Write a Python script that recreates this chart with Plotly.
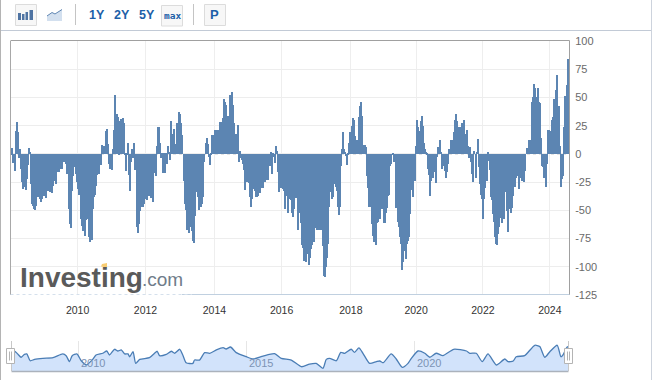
import numpy as np
import plotly.graph_objects as go

# weekly-style bars, two-year blocks between the axis tick marks
v_2008 = [-1,5,-8,-15,20,28,19,-4,4,-13,-25,-31,-25,-29,-32,-22,-10,5,2,-27,-44,-46,-49,-50,-46,-36,-38,-34,-40,-43,-40,-33,-37,-36,-39,-31,-33,-30,-34,-31,-35,-28,-24,-23,-27,-16,-16,-13,-5,-13,-5,-7,-5,-9,-18,-13,-49,-62,-66,-33,-20,-7,-12,-18,-25]
v_2010 = [-31,-36,-21,-58,-64,-68,-61,-73,-59,-58,-56,-74,-78,-76,-76,-49,-38,-36,-28,-19,-5,-18,-5,-10,8,4,7,4,20,22,9,-9,-13,-7,-14,4,21,52,35,33,-1,29,31,29,32,27,-1,-15,-1,10,-19,-33,-7,4,-4,10,-14,-14,-65,-70,-62,-51,-47,-34,-47,-44,-40]
v_2012 = [-31,-41,-33,-37,-33,-39,-34,-43,-17,-9,-20,7,24,24,10,-4,-1,-17,-1,-17,-1,-9,7,1,-5,26,29,18,18,22,7,9,27,27,37,35,27,17,0,-24,-44,-50,-67,-64,-70,-61,-65,-68,-77,-79,-55,-20,-34,-38,-50,-43,-47,-44,-38,-7,0,10,14,9,-3,-10,-1,17,17,14]
v_2014 = [21,10,21,10,21,28,28,28,32,49,46,43,30,34,34,52,48,55,43,27,11,18,12,26,-7,3,-4,-5,-9,-14,-32,-16,-25,-16,-26,-38,-47,-40,-31,-24,-33,-38,-38,-37,-30,-35,-30,-26,-30,-22,-25,-22,-23,-23,-7,-11,2,-18,-1,-3,-8,7,3,-16,-34,-24,-30]
v_2016 = [-28,-31,-33,-49,-37,-34,-52,-39,-40,-41,-52,-56,-49,-36,-39,-33,-67,-52,-50,-61,-81,-83,-95,-85,-96,-83,-89,-98,-92,-84,-81,-78,-78,-60,-66,-67,-67,-63,-67,-67,-67,-82,-108,-109,-100,-92,-80,-47,-34,-31,-40,-40,-38,-26,-27,-29,-33,-47,-54,-47,-11,4,19,4,1,-2,-10,-1,10,19]
v_2018 = [15,25,32,30,16,7,12,7,33,42,46,34,8,6,8,6,-20,-30,-47,-41,-47,-62,-73,-78,-61,-81,-61,-60,-53,-58,-40,-49,-40,-61,-61,-52,-48,-37,-36,-11,-9,0,-1,-7,-3,-48,-43,-60,-65,-74,-80,-103,-96,-86,-78,-93,-80,-77,-74,-53,-32,-30,-38,-24,-24]
v_2020 = [7,30,24,16,20,29,34,25,10,4,1,-1,-13,-19,-37,-24,-17,-21,-16,-14,-26,-3,6,6,12,1,-13,-9,-11,-15,-21,-16,-9,4,4,12,12,7,19,30,35,29,21,24,24,18,27,19,30,16,18,21,7,-4,6,-7,-18,-25,3,0,-21,1,13,-12,-27,-36,-40]
v_2022 = [-58,-40,-30,-8,-24,1,-6,-14,-38,-41,-53,-60,-74,-80,-81,-71,-65,-57,-53,-61,-55,-58,-34,-30,-51,-69,-47,-49,-52,-48,-37,-29,-29,-21,-12,-20,-31,-19,-21,-24,-20,-25,-15,0,5,3,12,12,12,46,50,62,58,47,50,58,46,45,14,-11,-12,-21,-17,-29,-9,21,21]
v_2024 = [20,14,30,33,49,46,57,70,34,42,7,-29,-22,-20,24,51,46,61,84]
blocks = [v_2008, v_2010, v_2012, v_2014, v_2016, v_2018, v_2020, v_2022, v_2024]
# dates where each block starts (last entry: end of data)
block_edges = [2008.0, 2009.98, 2012.0, 2014.05, 2016.05, 2018.11, 2020.05, 2022.04, 2024.03, 2024.6]

tick_years = ["2010", "2012", "2014", "2016", "2018", "2020", "2022", "2024"]
y_ticks = [100, 75, 50, 25, 0, -25, -50, -75, -100, -125]
y_labels = ["100", "75", "50", "25", "0", "-25", "-50", "-75", "-100", "-125"]

nav_years = [2008.02,2008.10,2008.20,2008.30,2008.40,2008.47,2008.57,2008.70,2008.95,2009.25,2009.54,2009.64,2009.74,2009.82,2009.96,2010.09,2010.24,2010.44,2010.53,2010.73,2010.85,2010.93,2011.08,2011.18,2011.28,2011.38,2011.48,2011.53,2011.63,2011.71,2011.83,2012.12,2012.27,2012.35,2012.42,2012.62,2012.77,2012.87,2013.02,2013.11,2013.21,2013.41,2013.46,2013.61,2013.76,2013.91,2014.11,2014.31,2014.40,2014.53,2014.70,2015.00,2015.20,2015.50,2015.84,2016.04,2016.34,2016.64,2016.88,2017.08,2017.28,2017.38,2017.48,2017.68,2017.81,2017.93,2018.12,2018.22,2018.35,2018.47,2018.67,2018.87,2018.97,2019.07,2019.31,2019.46,2019.64,2019.81,2019.91,2020.11,2020.31,2020.46,2020.65,2020.85,2021.17,2021.55,2021.65,2021.84,2022.02,2022.19,2022.44,2022.69,2022.79,2022.94,2023.03,2023.28,2023.58,2023.73,2023.88,2024.03,2024.25,2024.36,2024.42,2024.54,2024.6]
nav_values = [30,25,3,-22,0,3,-48,-38,-30,-25,3,-10,-55,-10,3,-48,-80,-35,-5,8,25,-5,38,25,33,3,3,-18,20,-68,-38,-25,8,23,-10,0,23,8,38,-5,-63,-68,-43,-43,13,8,33,50,40,55,13,-18,-35,-13,5,-30,-43,-93,-73,-68,-105,-38,-30,-48,15,8,38,15,48,8,-68,-55,-50,-63,3,-35,-98,-68,-30,25,8,-22,8,-10,38,25,8,8,-55,3,-80,-35,-55,-50,-18,-10,68,58,-22,20,68,-18,-5,53,60]
nav_tick_years = [2010, 2015, 2020]

W, H = 653, 380
L, R, T, B = 11, 569, 41, 371


def xp(px):
    return (px - L) / (R - L)


def yp(py):
    return (B - py) / (B - T)


bar_x, bar_y, bar_w = [], [], []
for k, block in enumerate(blocks):
    a, b = block_edges[k], block_edges[k + 1]
    step = (b - a) / len(block)
    for i, v in enumerate(block):
        bar_x.append(a + (i + 0.5) * step)
        bar_y.append(v)
        bar_w.append(step * 1.12)

fig = go.Figure()
fig.add_trace(go.Bar(x=bar_x, y=bar_y, width=bar_w, marker=dict(color="#5C85B2", line_width=0),
                     hoverinfo="skip", showlegend=False, xaxis="x", yaxis="y"))
fig.add_trace(go.Scatter(x=nav_years, y=[-125] * len(nav_years), mode="lines", line=dict(width=0),
                         hoverinfo="skip", showlegend=False, xaxis="x2", yaxis="y2"))
fig.add_trace(go.Scatter(x=nav_years, y=nav_values, mode="lines", fill="tonexty", fillcolor="#D2E3FB",
                         line=dict(color="#4A7DB5", width=1.3, shape="spline", smoothing=0.6),
                         hoverinfo="skip", showlegend=False, xaxis="x2", yaxis="y2"))

shapes = []


def rect(x0, y0, x1, y1, fill=None, line=None, lw=1):
    shapes.append(dict(type="rect", xref="paper", yref="paper", x0=xp(x0), x1=xp(x1), y0=yp(y0), y1=yp(y1),
                       fillcolor=fill or "rgba(0,0,0,0)", line=dict(color=line or "rgba(0,0,0,0)", width=lw if line else 0)))


def seg(x0, y0, x1, y1, color, lw=1, dash=None):
    shapes.append(dict(type="line", xref="paper", yref="paper", x0=xp(x0), x1=xp(x1), y0=yp(y0), y1=yp(y1),
                       line=dict(color=color, width=lw, dash=dash or "solid")))


def path(points, fill, line=None, lw=0):
    d = "M " + " L ".join(f"{xp(a):.5f},{yp(b):.5f}" for a, b in points) + " Z"
    shapes.append(dict(type="path", xref="paper", yref="paper", path=d, fillcolor=fill,
                       line=dict(color=line or "rgba(0,0,0,0)", width=lw)))


# page frame
seg(0.5, 0, 0.5, 380, "#B4B4B4")
seg(651.5, 0, 651.5, 380, "#CDD3DD")
seg(1, 30.5, 651, 30.5, "#C2CAD6")
# chart frame
seg(10.5, 41, 10.5, 295, "#A8A8A8")
seg(10.5, 40.5, 569.5, 40.5, "#A0A0A0")
seg(569.5, 40.5, 569.5, 295, "#A0A0A0")
seg(182, 294.5, 569.5, 294.5, "#C0D0E0")
seg(10.5, 294.5, 192, 294.5, "#D5E0EC", 1, "dot")
# toolbar
for x0, x1, y0, y1 in [(15.5, 36.5, 4.5, 25.5), (161.5, 182.5, 5.5, 26), (204.5, 225.5, 4.5, 25.5)]:
    rect(x0, y0, x1, y1, "#F7F7F7", "#DCDCDC")
seg(75.5, 4, 75.5, 25, "#C4C4C4")
seg(193.5, 4, 193.5, 25, "#C4C4C4")
for x0, x1, top in [(18, 21, 13), (22, 24.5, 14), (25.5, 28, 12), (29.5, 33, 10)]:
    rect(x0, top, x1, 20, "#4F74A3")
path([(47, 21), (47, 16), (52, 12.5), (55, 14), (62, 9.5), (62, 21)], "#D3E0EF")
shapes.append(dict(type="path", xref="paper", yref="paper",
                   path="M " + " L ".join(f"{xp(a):.5f},{yp(b):.5f}" for a, b in [(47, 16), (52, 12.5), (55, 14), (62, 9.5)]),
                   line=dict(color="#5F86B3", width=1)))
# logo accent
path([(101, 266.5), (102, 264), (107, 263), (107, 267.5)], "#F9CD72")
# navigator
seg(11.5, 341, 11.5, 371, "#C8C8C8")
seg(568.5, 341, 568.5, 371, "#C8C8C8")
seg(11.5, 371.5, 568.5, 371.5, "#ABB2BC", 1.5)
for x0, x1 in [(6.5, 14.5), (564.5, 572.5)]:
    rect(x0, 348.5, x1, 363.5, "#FFFFFF", "#B4B4B4")
    seg(x0 + 3, 351.5, x0 + 3, 360.5, "#B4B4B4")
    seg(x0 + 5, 351.5, x0 + 5, 360.5, "#B4B4B4")
# zero reference
shapes.append(dict(type="line", xref="paper", yref="y", x0=0, x1=1, y0=0, y1=0, layer="below",
                   line=dict(color="#B5B5B5", width=1, dash="dot")))

ann = []


def text(px, py, s, size, color, bold=False, family="Liberation Sans", anchor="center"):
    ann.append(dict(xref="paper", yref="paper", x=xp(px), y=yp(py), text=f"<b>{s}</b>" if bold else s,
                    showarrow=False, xanchor=anchor, yanchor="middle",
                    font=dict(family=family, size=size, color=color)))


blue = "#1C5FA8"
for px, s in [(97, "1Y"), (121.5, "2Y"), (147, "5Y")]:
    text(px, 15.5, s, 12.5, blue, bold=True)
text(172, 15.5, "max", 9.5, blue, bold=True, family="DejaVu Sans Mono")
text(214.5, 15, "P", 13, blue, bold=True)
text(18, 277, "Investing", 28, "#5A5A5A", bold=True, anchor="left")
text(140, 279, ".com", 19, "#707C8A", anchor="left")
for yr in nav_tick_years:
    ann.append(dict(xref="x2", yref="paper", x=yr, y=yp(363), xshift=15, text=str(yr), showarrow=False,
                    xanchor="center", yanchor="middle", font=dict(family="Liberation Sans", size=11, color="#7D93B5")))

main_bottom = yp(295)
nav_top = yp(341)
fig.update_layout(
    width=W, height=H, autosize=False, paper_bgcolor="white", plot_bgcolor="white",
    margin=dict(l=L, r=W - R, t=T, b=H - B, pad=0, autoexpand=False), barmode="overlay", bargap=0, showlegend=False,
    xaxis=dict(domain=[0, 1], range=[2008.0, 2024.6], anchor="y", tickmode="array",
               tickvals=block_edges[1:9], ticktext=tick_years, showgrid=True, gridcolor="#EEEEEE", gridwidth=1,
               zeroline=False, showline=False, ticks="outside", ticklen=5, tickcolor="rgba(0,0,0,0)",
               tickfont=dict(family="Liberation Sans", size=10.5, color="#333333")),
    yaxis=dict(domain=[main_bottom, 1], range=[-125, 100], side="right", anchor="x", tickmode="array",
               tickvals=y_ticks, ticktext=y_labels, showgrid=True, gridcolor="#EDEDED", gridwidth=1,
               zeroline=False, showline=False, ticks="outside", ticklen=3, tickcolor="rgba(0,0,0,0)",
               tickfont=dict(family="Liberation Sans", size=11, color="#6A6A6A")),
    xaxis2=dict(domain=[0, 1], range=[2008.0, 2024.6], anchor="y2", tickmode="array", tickvals=nav_tick_years,
                showticklabels=False, showgrid=True, gridcolor="#E6E6E6", zeroline=False, showline=False, ticks=""),
    yaxis2=dict(domain=[0, nav_top], range=[-125, 100], anchor="x2", showgrid=False, showticklabels=False,
                zeroline=False, showline=False, ticks=""),
    shapes=shapes, annotations=ann,
)
fig.write_html("out.html", config=dict(displayModeBar=False),
               post_script="document.body.style.margin='0';document.body.style.overflow='hidden';")
